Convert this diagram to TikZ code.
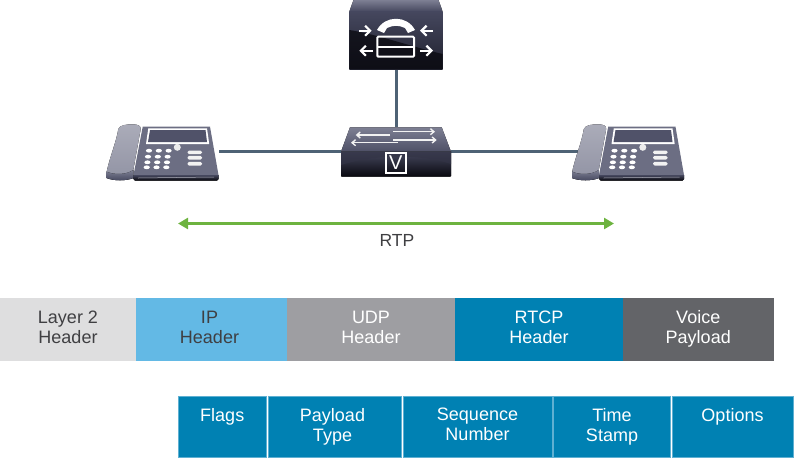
\documentclass[tikz,border=0pt]{standalone}
\usepackage{fontspec}
\setmainfont{Liberation Sans}
\usetikzlibrary{arrows.meta}

\definecolor{linkgray}{HTML}{4E6275}
\definecolor{rtpgreen}{HTML}{6DB33F}
\definecolor{textdark}{HTML}{3F3F42}
\definecolor{barlight}{HTML}{DEDEDF}
\definecolor{barsky}{HTML}{63B9E5}
\definecolor{bargray}{HTML}{9E9EA2}
\definecolor{barblue}{HTML}{0081B3}
\definecolor{barslate}{HTML}{636468}
\definecolor{fieldedge}{HTML}{5FB0D2}
\definecolor{icontop}{HTML}{7D7F93}
\definecolor{iconmid}{HTML}{45475E}
\definecolor{icondark}{HTML}{08080E}

\newcommand{\linestrut}{\rule[-4pt]{0pt}{16pt}}

\tikzset{
  trunk/.style={draw=linkgray, line width=3pt},
  iconspot/.style={inner sep=0pt, outer sep=0pt},
  bartext/.style={font=\fontsize{18}{20}\selectfont, align=center, inner sep=0pt, outer sep=0pt,
    minimum height=62.5pt, anchor=north west},
  field/.style={font=\fontsize{18}{20}\selectfont, align=center, inner sep=0pt, outer sep=0pt,
    minimum height=61pt, anchor=north west, fill=barblue, draw=fieldedge, line width=0.4pt, text=white},
  iconline/.style={white, line width=2pt},
  iconarrow/.style={white, line width=2.2pt, -{Straight Barb[length=5pt,width=10pt]}},
  swarrow/.style={white!90!gray, line width=1.4pt, -{Straight Barb[length=3.5pt,width=6pt]}},
  phone/.pic={
    % handset
    \fill[top color=icontop!65!white, bottom color=icontop!85!white] (-57.7,-22) .. controls (-56,-26) and (-50,-26.7) .. (-43,-26.7)
      .. controls (-38,-26.7) and (-35,-25) .. (-35.3,-22) -- (-42.7,19) -- (-42.7,27) .. controls (-50,30) and (-62,30) .. (-69.3,27)
      -- (-69.3,20.7) .. controls (-66,5) and (-60,-8) .. (-57.7,-22) -- cycle;
    \fill[top color=icontop, bottom color=iconmid] (-69.3,20.7) .. controls (-62,24) and (-50,24) .. (-42.7,19)
      -- (-42.7,27) .. controls (-50,30) and (-62,30) .. (-69.3,27) -- cycle;
    % body
    \fill[icontop!70!iconmid] (-33.3,-24.3) -- (34,-24.3) -- (42.5,24) -- (-42.5,24) -- cycle;
    \fill[top color=iconmid, bottom color=icondark] (-42.5,24) -- (42.5,24) -- (42.5,28) -- (41,29.5) -- (-41,29.5) -- (-42.5,28) -- cycle;
    \draw[icontop!60!white, line width=0.5pt] (-38,27) -- (38,26);
    % screen
    \fill[white] (-27.7,-22.7) -- (31,-22.7) -- (33.2,-7) -- (-30,-7) -- cycle;
    \fill[iconmid!80!icontop] (-26,-21) -- (29.5,-21) -- (31,-9) -- (-28,-9) -- cycle;
    % keys
    \foreach \ky/\kx in {-0.3/-27, 5.7/-28, 11.3/-28.6, 16.3/-29.3}
      \foreach \kn in {0,1,2}
        \fill[white] (\kx+\kn*9.8,\ky) ellipse [x radius=3.1, y radius=1.9];
    \fill[white!85!gray] (1.3,-3.7) circle [radius=3.5];
    \foreach \ky in {1.3,6.7,12.7}
      \fill[white!90!gray, rounded corners=1.5pt] (11.5,\ky-1.8) rectangle (26,\ky+1.8);
  },
  switchbox/.pic={
    \fill[top color=icontop, bottom color=iconmid!85!icontop] (-46,-23.7) -- (45.7,-23.7) -- (55,0.7) -- (-55,0.7) -- cycle;
    \fill[top color=iconmid, bottom color=icondark] (-55,0.7) -- (55,0.7) -- (55,25) -- (54,25.7) -- (-54,25.7) -- (-55,25) -- cycle;
    \fill[iconmid!70!icondark, opacity=0.7] (-55,14) .. controls (-20,3) and (25,3) .. (55,13) -- (55,0.7) -- (-55,0.7) -- cycle;
    \draw[swarrow] (-2.7,-19.3) -- (39,-19.3);
    \draw[swarrow] (-6,-16) -- (-40.3,-16);
    \draw[swarrow] (-2.7,-11) -- (40.7,-11);
    \draw[swarrow] (2,-8.3) -- (-45,-8.3);
    \node[draw=white, line width=1.4pt, minimum size=20pt, inner sep=0pt, text=white,
      font=\fontsize{20}{20}\selectfont] (-v) at (-0.2,12) {V};
  },
  callserver/.pic={
    \fill[top color=icontop, bottom color=iconmid] (-42.5,-40) -- (42.5,-40) -- (46.7,-28.3) -- (-46.7,-28.3) -- cycle;
    \fill[top color=iconmid, bottom color=icondark!60!iconmid] (-46.7,-28.3) rectangle (46.7,29);
    \fill[icondark, opacity=0.75] (-46.7,-10) .. controls (-20,-6) and (20,8) .. (46.7,14) -- (46.7,29) -- (-46.7,29) -- cycle;
    \fill[white] (-19,-10) .. controls (-11,-25) and (11,-25) .. (19,-10) -- (12,-7) -- (9,-12)
      .. controls (3,-15) and (-3,-15) .. (-9,-12) -- (-12,-7) -- cycle;
    \draw[iconline, rounded corners=1pt] (-18.7,-3.3) rectangle (18,16.7);
    \draw[iconline] (-18.7,6.7) -- (18,6.7);
    \draw[iconarrow] (-36.7,-9.3) -- (-24.3,-9.3);
    \draw[iconarrow] (36.7,-9.3) -- (24,-9.3);
    \draw[iconarrow] (-23,10.7) -- (-36.7,10.7);
    \draw[iconarrow] (24,10.7) -- (37,10.7);
  }
}

\begin{document}
\begin{tikzpicture}[x=1pt, y=-1pt]
  \useasboundingbox (0,0) rectangle (795,459);

  \node[iconspot, minimum width=86pt, minimum height=54pt] (phoneL) at (176,151) {};
  \node[iconspot, minimum width=86pt, minimum height=54pt] (phoneR) at (641.5,151) {};
  \node[iconspot, minimum width=110pt, minimum height=48pt] (switch) at (396,151) {};
  \node[iconspot, minimum width=93pt, minimum height=58pt] (server) at (396,40) {};

  \draw[trunk] (phoneL.east) -- (switch.west);
  \draw[trunk] (switch.east) -- (phoneR.west);
  \draw[trunk] (server.south) -- (switch.north);

  \pic (phoneLicon) at (phoneL) {phone};
  \pic (phoneRicon) at (phoneR) {phone};
  \pic (switchicon) at (switch) {switchbox};
  \pic (servericon) at (server) {callserver};

  \coordinate (rtpL) at (178,223.5);
  \coordinate (rtpR) at (614,223.5);
  \draw[rtpgreen, line width=2.6pt, {Triangle[length=10pt,width=11pt]}-{Triangle[length=10pt,width=11pt]}] (rtpL) -- (rtpR);
  \node[text=textdark, font=\fontsize{17.5}{20}\selectfont, inner sep=0pt] (rtp) at (397,240) {RTP};

  \node[bartext, fill=barlight, text=textdark, minimum width=136pt] (layer2) at (0,298) {\linestrut Layer 2\\\linestrut Header};
  \node[bartext, fill=barsky, text=textdark, minimum width=151pt] (ip) at (136,298) {\linestrut IP\hspace*{4pt}\\\linestrut Header\hspace*{4pt}};
  \node[bartext, fill=bargray, text=white, minimum width=168pt] (udp) at (287,298) {\linestrut UDP\\\linestrut Header};
  \node[bartext, fill=barblue, text=white, minimum width=168pt] (rtcp) at (455,298) {\linestrut RTCP\\\linestrut Header};
  \node[bartext, fill=barslate, text=white, minimum width=150.5pt] (voice) at (623,298) {\linestrut Voice\\\linestrut Payload};

  \node[field, minimum width=87.5pt] (flags) at (178.5,396) {\linestrut Flags\\\linestrut};
  \node[field, minimum width=133pt] (payload) at (268,396) {\linestrut Payload\hspace*{4pt}\\\linestrut Type\hspace*{4pt}};
  \node[field, minimum width=149pt] (sequence) at (403,396) {\linestrut Sequence\\\linestrut Number};
  \node[field, minimum width=117pt] (stamp) at (553.5,396) {\linestrut Time\\\linestrut Stamp};
  \node[field, minimum width=121pt] (options) at (672,396) {\linestrut Options\\\linestrut};
\end{tikzpicture}
\end{document}
